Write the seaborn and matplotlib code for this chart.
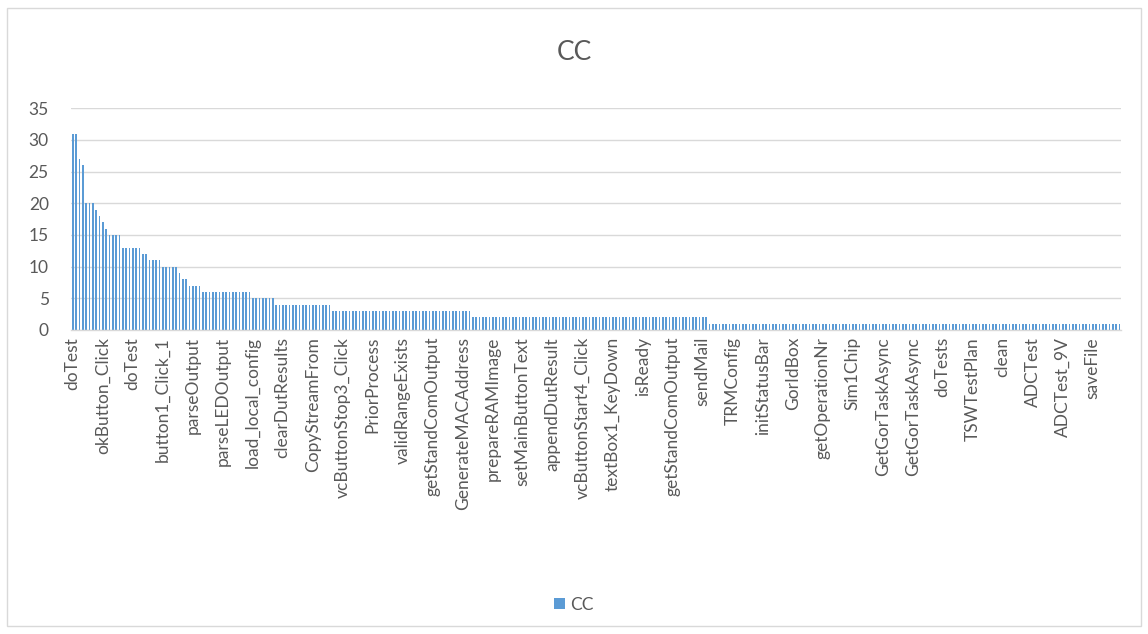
import numpy as np
import pandas as pd
import matplotlib
matplotlib.use("Agg")
import matplotlib.pyplot as plt
from matplotlib.patches import Patch, Rectangle
import seaborn as sns

# Cyclomatic complexity per method, sorted descending (run-length: level, how many methods)
cc_levels = [31, 27, 26, 20, 19, 18, 17, 16, 15, 13, 12, 11, 10, 9, 8, 7, 6, 5, 4, 3, 2, 1]
cc_counts = [2, 1, 1, 3, 1, 1, 1, 1, 4, 6, 2, 4, 5, 1, 2, 4, 15, 7, 17, 42, 71, 124]

# Method names shown on the category axis (every ninth method)
tick_labels = [
    "doTest", "okButton_Click", "doTest", "button1_Click_1", "parseOutput",
    "parseLEDOutput", "load_local_config", "clearDutResults", "CopyStreamFrom",
    "vcButtonStop3_Click", "PriorProcess", "validRangeExists", "getStandComOutput",
    "GenerateMACAddress", "prepareRAMImage", "setMainButtonText", "appendDutResult",
    "vcButtonStart4_Click", "textBox1_KeyDown", "isReady", "getStandComOutput",
    "sendMail", "TRMConfig", "initStatusBar", "GorIdBox", "getOperationNr",
    "Sim1Chip", "GetGorTaskAsync", "GetGorTaskAsync", "doTests", "TSWTestPlan",
    "clean", "ADCTest", "ADCTest_9V", "saveFile",
]
label_step = 9

values = np.repeat(cc_levels, cc_counts)
df = pd.DataFrame({"method": np.arange(len(values)), "CC": values})

sns.set_theme(style="white")
plt.rcParams["font.family"] = ["Lato", "DejaVu Sans"]

W, H = 1148, 634
fig = plt.figure(figsize=(W / 100, H / 100), dpi=100)
fig.patch.set_facecolor("white")

# chart-area border
fig.add_artist(Rectangle((7 / W, 1 - 626 / H), (1141 - 7) / W, (626 - 8) / H,
                         transform=fig.transFigure, fill=False,
                         edgecolor="#D9D9D9", linewidth=1.0))

left, right, top, bottom = 71, 1121, 108.3, 330
ax = fig.add_axes([left / W, 1 - bottom / H, (right - left) / W, (bottom - top) / H])

bar_color = "#5B9BD5"
sns.barplot(data=df, x="method", y="CC", color=bar_color, width=0.5,
            saturation=1, ax=ax, linewidth=0)

ax.set_ylim(0, 35)
ax.set_yticks(range(0, 36, 5))
ax.set_xlim(-0.5, len(values) - 0.5)
ax.yaxis.grid(True, color="#D9D9D9", linewidth=1.0)
ax.set_axisbelow(True)
for side in ["top", "right", "left"]:
    ax.spines[side].set_visible(False)
ax.spines["bottom"].set_color("#D9D9D9")
ax.spines["bottom"].set_linewidth(1.0)

tick_pos = np.arange(0, len(values), label_step)[: len(tick_labels)]
ax.set_xticks(tick_pos)
ax.set_xticklabels(tick_labels, rotation=90, fontsize=12.5, color="#595959")
ax.tick_params(axis="x", length=0, pad=5)
ax.tick_params(axis="y", length=0, pad=16, labelsize=12.5, labelcolor="#595959")
ax.set_xlabel("")
ax.set_ylabel("")

fig.text(0.5, 1 - 52 / H, "CC", ha="center", va="center", fontsize=19, color="#595959")

handles = [Patch(facecolor=bar_color, edgecolor="none", label="CC")]
fig.legend(handles=handles, loc="center", bbox_to_anchor=(0.5, 1 - 605 / H),
           frameon=False, fontsize=12.5, labelcolor="#595959",
           handlelength=0.6, handleheight=0.6, handletextpad=0.3)

fig.savefig("out.png", dpi=100, facecolor="white")
